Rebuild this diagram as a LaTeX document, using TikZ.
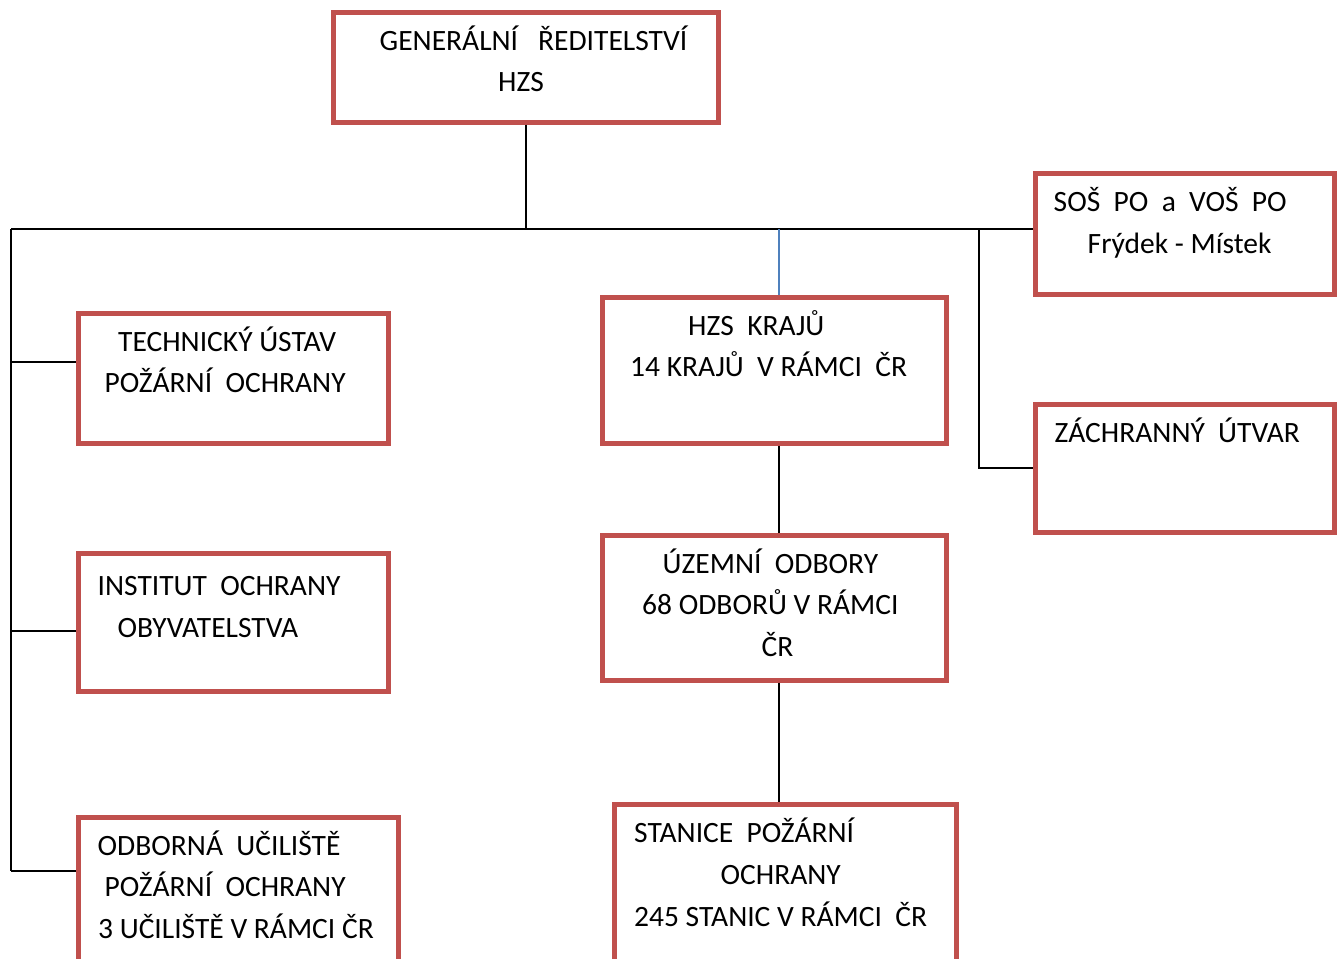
\documentclass[tikz,border=0pt]{standalone}
\usepackage{fontspec}
\setmainfont{Carlito}
\definecolor{boxred}{HTML}{C0504D}
\definecolor{lineblue}{HTML}{4F81BD}

\begin{document}
\begin{tikzpicture}[x=1pt,y=-1pt,
	unit/.style={draw=boxred,line width=5pt,inner sep=0pt,rectangle},
	txt/.style={anchor=base west,inner sep=0pt,font=\fontsize{29.5}{41}\selectfont},
	conn/.style={line width=2pt}]
	\useasboundingbox (0,0) rectangle (1343,958);
	\clip (0,0) rectangle (1343,958);
	% boxes
	\node[unit,minimum width=385pt,minimum height=109pt] (gen) at (525.5,67.5) {};
	\node[unit,minimum width=299pt,minimum height=121pt] (sos) at (1184.5,233.5) {};
	\node[unit,minimum width=310pt,minimum height=130pt] (tech) at (233,378) {};
	\node[unit,minimum width=344pt,minimum height=146pt] (kraje) at (774,370) {};
	\node[unit,minimum width=299pt,minimum height=128pt] (zachr) at (1184.5,468) {};
	\node[unit,minimum width=310pt,minimum height=138pt] (iop) at (233,622) {};
	\node[unit,minimum width=344pt,minimum height=145pt] (uzemni) at (774,607.5) {};
	\node[unit,minimum width=320pt,minimum height=183pt] (ucil) at (238,908.5) {};
	\node[unit,minimum width=342pt,minimum height=196pt] (stanice) at (785,902) {};
	% texts
	\node[txt] (gen-1) at (379.5,51) {GENERÁLNÍ~~~ŘEDITELSTVÍ};
	\node[txt] (gen-2) at (498,92) {HZS};
	\node[txt] (sos-1) at (1053.5,211) {SOŠ~~PO~~a~~VOŠ~~PO};
	\node[txt] (sos-2) at (1087.5,253) {Frýdek - Místek};
	\node[txt] (tech-1) at (118,351) {TECHNICKÝ ÚSTAV};
	\node[txt] (tech-2) at (104.5,392) {POŽÁRNÍ~~OCHRANY};
	\node[txt] (kraje-1) at (688,335) {HZS~~KRAJŮ};
	\node[txt] (kraje-2) at (630,376) {14 KRAJŮ~~V RÁMCI~~ČR};
	\node[txt] (zachr-1) at (1054.5,442) {ZÁCHRANNÝ~~ÚTVAR};
	\node[txt] (iop-1) at (97.5,595) {INSTITUT~~OCHRANY};
	\node[txt] (iop-2) at (117.5,637) {OBYVATELSTVA};
	\node[txt] (uzemni-1) at (662.5,573) {ÚZEMNÍ~~ODBORY};
	\node[txt] (uzemni-2) at (642,614) {68 ODBORŮ V RÁMCI};
	\node[txt] (uzemni-3) at (761.5,656) {ČR};
	\node[txt] (ucil-1) at (97.5,855) {ODBORNÁ~~UČILIŠTĚ};
	\node[txt] (ucil-2) at (104.5,896) {POŽÁRNÍ~~OCHRANY};
	\node[txt] (ucil-3) at (98,938) {3 UČILIŠTĚ V RÁMCI ČR};
	\node[txt] (stanice-1) at (634,842) {STANICE~~POŽÁRNÍ};
	\node[txt] (stanice-2) at (720.5,884) {OCHRANY};
	\node[txt] (stanice-3) at (634,926) {245 STANIC V RÁMCI~~ČR};
	% connectors
	\coordinate (bus) at (11,229);
	\coordinate (mid) at (779,229);
	\coordinate (rv) at (979,229);
	\coordinate (b-tech) at (11,362);
	\coordinate (b-iop) at (11,631);
	\coordinate (b-ucil) at (11,871);
	\draw[conn] (gen.south) -- (gen.south |- bus);
	\draw[conn] (bus) -- (bus -| sos.west);
	\draw[conn] (bus) -- (b-ucil);
	\draw[conn] (b-tech) -- (b-tech -| tech.west);
	\draw[conn] (b-iop) -- (b-iop -| iop.west);
	\draw[conn] (b-ucil) -- (b-ucil -| ucil.west);
	\draw[conn] (rv) |- (zachr.west);
	\draw[lineblue,line width=1.5pt] (mid) -- (mid |- kraje.north);
	\draw[conn] (kraje.south -| mid) -- (uzemni.north -| mid);
	\draw[conn] (uzemni.south -| mid) -- (stanice.north -| mid);
\end{tikzpicture}
\end{document}
